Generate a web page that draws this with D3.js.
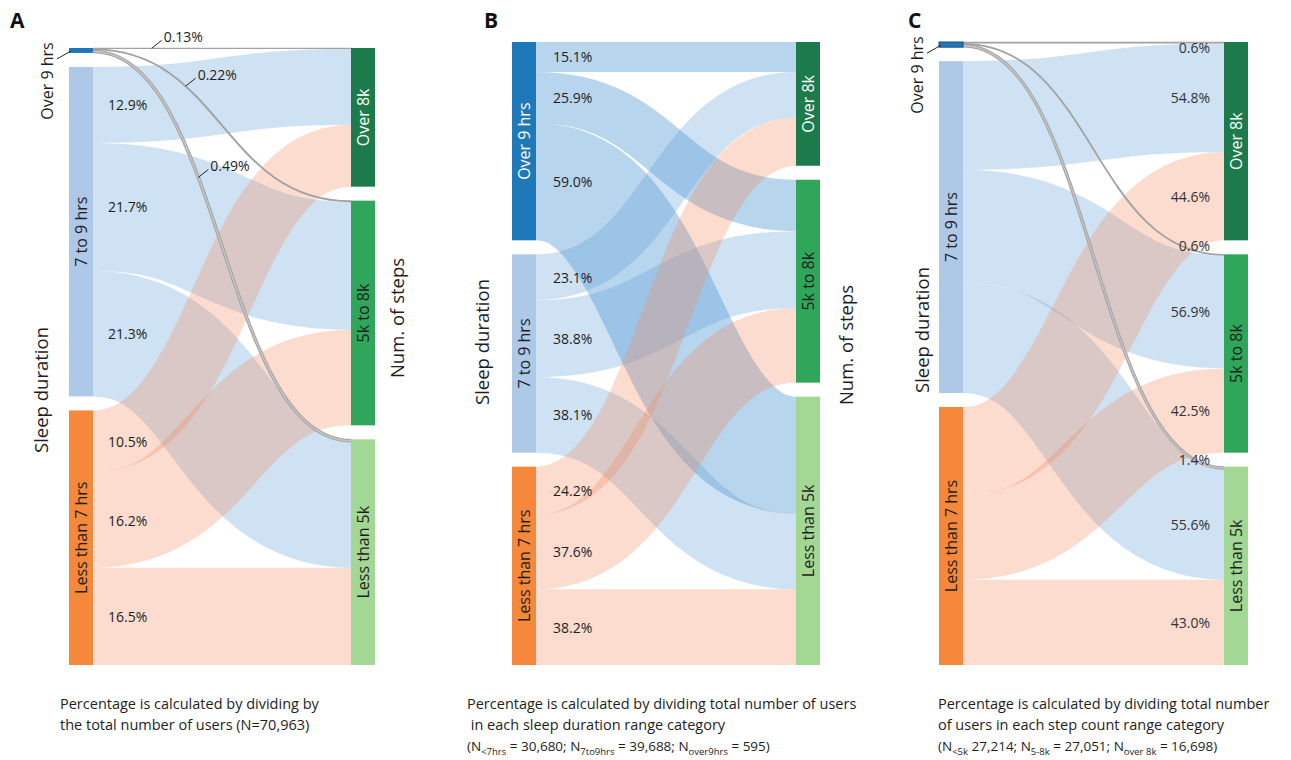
<!DOCTYPE html>
<html>
<head>
<meta charset="utf-8">
<script src="https://cdn.jsdelivr.net/npm/d3@7"></script>
<style>
  body { margin: 0; background: #fff; }
  svg { display: block; font-family: "Open Sans", "Noto Sans", sans-serif; }
  .link { fill: none; stroke-opacity: 0.3; }
</style>
</head>
<body>
<svg id="chart" width="1291" height="760"></svg>
<script>
// ---- data ----------------------------------------------------------------
const sleepCategories = ["Over 9 hrs", "7 to 9 hrs", "Less than 7 hrs"];
const stepCategories = ["Over 8k", "5k to 8k", "Less than 5k"];

// rows = sleep duration category, columns = step count category (percent)
const pctOfAllUsers   = [[0.13, 0.22, 0.49], [12.9, 21.7, 21.3], [10.5, 16.2, 16.5]];
const pctWithinSleep  = [[15.1, 25.9, 59.0], [23.1, 38.8, 38.1], [24.2, 37.6, 38.2]];
const pctWithinSteps  = [[0.6, 0.6, 1.4], [54.8, 56.9, 55.6], [44.6, 42.5, 43.0]];

const panelLetters = ["A", "B", "C"];
const notesA = ["Percentage is calculated by dividing by", "the total number of users (N=70,963)"];
const notesB = ["Percentage is calculated by dividing total number of users", " in each sleep duration range category"];
const notesC = ["Percentage is calculated by dividing total number", "of users in each step count range category"];
const countsB = [["<7hrs", " = 30,680; "], ["7to9hrs", " = 39,688; "], ["over9hrs", " = 595)"]];
const countsC = [["<5k", " 27,214; "], ["5-8k", " = 27,051; "], ["over 8k", " = 16,698)"]];

// ---- styles --------------------------------------------------------------
const nodeFill = {
  "Over 9 hrs": "#1f78b8", "7 to 9 hrs": "#aec8e8", "Less than 7 hrs": "#f5883a",
  "Over 8k": "#1c7a4b", "5k to 8k": "#2fa65a", "Less than 5k": "#a3d794"
};
const nodeText = { "Over 9 hrs": "#fff", "Over 8k": "#fff" };
// ribbon colours, drawn at 30% opacity
const linkFill = { "Over 9 hrs": "#0f73c0", "7 to 9 hrs": "#5f9ed7", "Less than 7 hrs": "#f28a5c" };
const textColor = "#1e1e1e";

const svg = d3.select("#chart");
svg.append("rect").attr("width", 1291).attr("height", 760).attr("fill", "#fff");

const NODE_W = 24;
const linkPath = d3.linkHorizontal();

function layout(matrix, cfg) {
  const leftVals = matrix.map(r => d3.sum(r));
  const rightVals = stepCategories.map((_, j) => d3.sum(matrix, r => r[j]));
  const total = Math.max(d3.sum(leftVals), d3.sum(rightVals));
  const k = d3.scaleLinear().domain([0, total]).range([0, cfg.bottom - cfg.top - cfg.gap * 2]);

  const stack = (vals, names, x0) => {
    let y = cfg.top;
    return vals.map((v, i) => {
      const n = { name: names[i], index: i, value: v, x0, x1: x0 + NODE_W, y0: y, y1: y + k(v) };
      y = n.y1 + cfg.gap;
      return n;
    });
  };
  const left = stack(leftVals, sleepCategories, cfg.xL);
  const right = stack(rightVals, stepCategories, cfg.xR);

  const links = [];
  const srcOff = left.map(n => n.y0);
  const tgtOff = right.map(n => n.y0);
  matrix.forEach((row, i) => row.forEach((v, j) => {
    links.push({ source: left[i], target: right[j], value: v, width: k(v), i, j });
  }));
  // offsets at the source follow target order, at the target follow source order
  links.slice().sort((a, b) => a.i - b.i || a.j - b.j).forEach(l => {
    l.sy = srcOff[l.i] + l.width / 2; srcOff[l.i] += l.width;
  });
  links.slice().sort((a, b) => a.j - b.j || a.i - b.i).forEach(l => {
    l.ty = tgtOff[l.j] + l.width / 2; tgtOff[l.j] += l.width;
  });
  return { left, right, links };
}

function bezierPoint(l, t) {
  const x0 = l.source.x1, x1 = l.target.x0, xm = (x0 + x1) / 2;
  const u = 1 - t;
  const x = u * u * u * x0 + 3 * u * u * t * xm + 3 * u * t * t * xm + t * t * t * x1;
  const y = (u * u * u + 3 * u * u * t) * l.sy + (3 * u * t * t + t * t * t) * l.ty;
  return [x, y];
}

function drawPanel(matrix, cfg) {
  const g = svg.append("g");
  const { left, right, links } = layout(matrix, cfg);
  const isThin = l => cfg.thinLinks && l.source.name === "Over 9 hrs";

  // ribbons
  g.append("g").selectAll("path")
    .data(links.filter(l => !isThin(l)))
    .join("path")
    .attr("class", "link")
    .attr("d", l => linkPath({ source: [l.source.x1, l.sy], target: [l.target.x0, l.ty] }))
    .attr("stroke", l => linkFill[l.source.name])
    .attr("stroke-width", l => l.width);

  // very small flows drawn as grey lines
  const tg = g.append("g").attr("fill", "none");
  links.filter(isThin).forEach(l => {
    const d = linkPath({ source: [l.source.x1, l.sy], target: [l.target.x0, l.ty] });
    tg.append("path").attr("d", d)
      .attr("stroke", "#a2a2a2").attr("stroke-width", l.width + 0.6);
    if (l.width > 2.2) {
      tg.append("path").attr("d", d)
        .attr("stroke", "#c6c6c6").attr("stroke-width", l.width - 1.4);
    }
  });

  // nodes
  const nodes = left.concat(right);
  g.append("g").selectAll("rect")
    .data(nodes)
    .join("rect")
    .attr("x", d => d.x0).attr("y", d => d.y0)
    .attr("width", d => d.x1 - d.x0).attr("height", d => Math.max(d.y1 - d.y0, 1))
    .attr("fill", d => nodeFill[d.name])
    .attr("stroke", d => (cfg.outlineSmall && d.y1 - d.y0 < 10) ? "#1b4c7c" : "none")
    .attr("stroke-width", 1);

  // node names, rotated
  nodes.forEach(n => {
    const h = n.y1 - n.y0;
    if (h >= 40) {
      g.append("text")
        .attr("transform", `translate(${(n.x0 + n.x1) / 2},${(n.y0 + n.y1) / 2}) rotate(-90)`)
        .attr("text-anchor", "middle").attr("dominant-baseline", "central")
        .attr("font-size", 16).attr("fill", nodeText[n.name] || textColor)
        .text(n.name);
    } else {
      g.append("text")
        .attr("transform", `translate(${n.x0 - 22},${n.y0 + 33}) rotate(-90)`)
        .attr("text-anchor", "middle").attr("dominant-baseline", "central")
        .attr("font-size", 16).attr("fill", textColor)
        .text(n.name);
      g.append("line")
        .attr("x1", n.x0 - 12).attr("y1", n.y1 + 6)
        .attr("x2", n.x0 + 2).attr("y2", n.y1 - 2)
        .attr("stroke", "#222").attr("stroke-width", 1);
    }
  });

  // value labels
  const fmt = v => (v < 1 && cfg.labelSide === "left" ? d3.format(".2f")(v) : d3.format(".1f")(v)) + "%";
  const calloutT = [0.18, 0.32, 0.38];
  links.forEach(l => {
    if (cfg.labelSide === "left") {
      if (isThin(l)) {
        const [ax, ay] = bezierPoint(l, calloutT[l.j]);
        g.append("line").attr("x1", ax).attr("y1", ay).attr("x2", ax + 10).attr("y2", ay - 8)
          .attr("stroke", "#222").attr("stroke-width", 1);
        g.append("text").attr("x", ax + 12).attr("y", ay - 12)
          .attr("dominant-baseline", "central").attr("font-size", 14).attr("fill", textColor)
          .text(fmt(l.value));
      } else {
        g.append("text").attr("x", cfg.labelX).attr("y", l.sy)
          .attr("dominant-baseline", "central").attr("font-size", 14).attr("fill", textColor)
          .text(fmt(l.value));
      }
    } else {
      let y = l.ty;
      if (l.width < 6) y += (l.j === 0 ? 5 : -9);
      g.append("text").attr("x", cfg.labelX).attr("y", y)
        .attr("text-anchor", "end").attr("dominant-baseline", "central")
        .attr("font-size", 14).attr("fill", "#333")
        .text(fmt(l.value));
    }
  });

  // axis titles
  g.append("text")
    .attr("transform", `translate(${cfg.sleepTitle[0]},${cfg.sleepTitle[1]}) rotate(-90)`)
    .attr("text-anchor", "middle").attr("dominant-baseline", "central")
    .attr("font-size", 18.5).attr("fill", textColor).text("Sleep duration");
  if (cfg.stepTitle) {
    g.append("text")
      .attr("transform", `translate(${cfg.stepTitle[0]},${cfg.stepTitle[1]}) rotate(-90)`)
      .attr("text-anchor", "middle").attr("dominant-baseline", "central")
      .attr("font-size", 18.5).attr("fill", textColor).text("Num. of steps");
  }

  // panel letter
  g.append("text").attr("x", cfg.letter[0]).attr("y", 28)
    .attr("font-size", 21).attr("font-weight", "bold").attr("fill", "#111")
    .text(cfg.letterText);

  // notes below the panel
  const notes = g.append("g").attr("font-size", 14.5).attr("fill", textColor);
  cfg.notes.forEach((line, i) => {
    notes.append("text").attr("x", cfg.noteX).attr("y", 709 + i * 21)
      .style("white-space", "pre").text(line);
  });
  if (cfg.counts) {
    const t = notes.append("text").attr("x", cfg.noteX).attr("y", 751).attr("font-size", 13.5);
    t.append("tspan").text("(");
    cfg.counts.forEach(([sub, rest]) => {
      t.append("tspan").text("N");
      t.append("tspan").attr("dy", 4).attr("font-size", 9.5).text(sub);
      t.append("tspan").attr("dy", -4).style("white-space", "pre").text(rest);
    });
  }
}

drawPanel(pctOfAllUsers, {
  letterText: panelLetters[0], letter: [10],
  xL: 69, xR: 351, top: 48, bottom: 665, gap: 14,
  labelSide: "left", labelX: 108, thinLinks: true,
  sleepTitle: [40, 390], stepTitle: [396, 318],
  notes: notesA, noteX: 60
});
drawPanel(pctWithinSleep, {
  letterText: panelLetters[1], letter: [484],
  xL: 512, xR: 796, top: 42, bottom: 665, gap: 14,
  labelSide: "left", labelX: 553,
  sleepTitle: [481, 342], stepTitle: [845, 345],
  notes: notesB, noteX: 467, counts: countsB
});
drawPanel(pctWithinSteps, {
  letterText: panelLetters[2], letter: [908],
  xL: 939, xR: 1224, top: 42, bottom: 665, gap: 14,
  labelSide: "right", labelX: 1210, thinLinks: true, outlineSmall: true,
  sleepTitle: [921, 330],
  notes: notesC, noteX: 938, counts: countsC
});
</script>
</body>
</html>
